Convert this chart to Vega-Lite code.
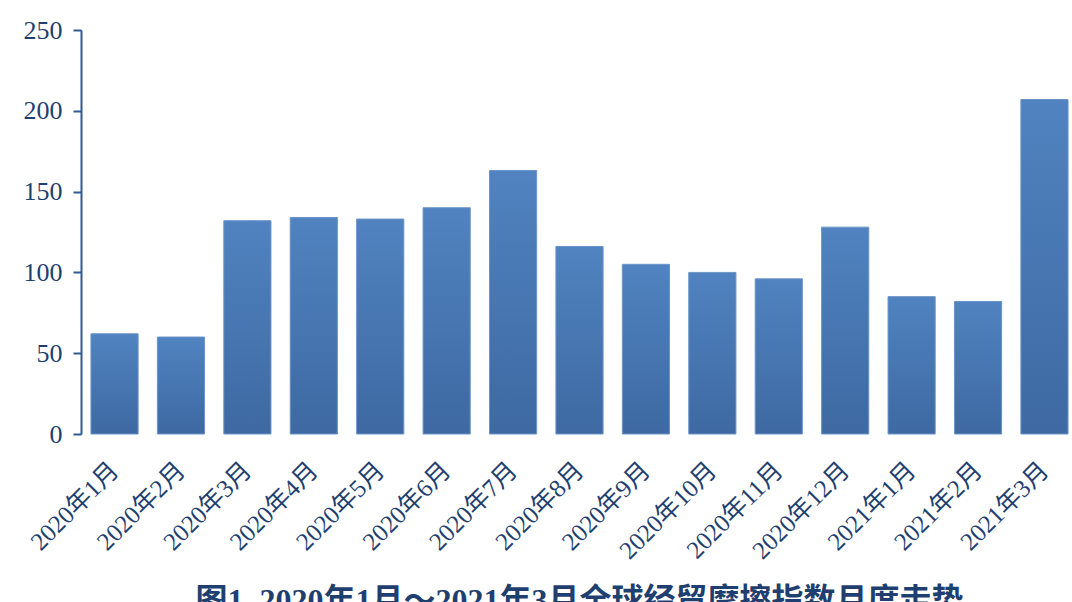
{
  "$schema": "https://vega.github.io/schema/vega-lite/v6.json",
  "width": 997,
  "height": 404,
  "autosize": "none",
  "padding": {"left": 81, "top": 30, "right": 0, "bottom": 168},
  "background": "white",
  "title": {
    "text": "图1\u00a0\u00a02020年1月～2021年3月全球经贸摩擦指数月度走势",
    "orient": "bottom",
    "anchor": "middle",
    "offset": 22,
    "font": "Liberation Serif, Noto Sans CJK SC",
    "fontSize": 32,
    "fontWeight": "bold",
    "color": "#1f3f70"
  },
  "data": {
    "values": [
      {"month": "2020年1月", "index": 62},
      {"month": "2020年2月", "index": 60},
      {"month": "2020年3月", "index": 132},
      {"month": "2020年4月", "index": 134},
      {"month": "2020年5月", "index": 133},
      {"month": "2020年6月", "index": 140},
      {"month": "2020年7月", "index": 163},
      {"month": "2020年8月", "index": 116},
      {"month": "2020年9月", "index": 105},
      {"month": "2020年10月", "index": 100},
      {"month": "2020年11月", "index": 96},
      {"month": "2020年12月", "index": 128},
      {"month": "2021年1月", "index": 85},
      {"month": "2021年2月", "index": 82},
      {"month": "2021年3月", "index": 207}
    ]
  },
  "mark": {
    "type": "bar",
    "stroke": "#6a94c8",
    "strokeWidth": 1,
    "color": {
      "gradient": "linear",
      "x1": 0, "y1": 0, "x2": 0, "y2": 1,
      "stops": [
        {"offset": 0, "color": "#5083c0"},
        {"offset": 1, "color": "#3e69a2"}
      ]
    }
  },
  "encoding": {
    "x": {
      "field": "month",
      "type": "nominal",
      "sort": null,
      "scale": {"paddingInner": 0.29, "paddingOuter": 0.15},
      "axis": {
        "title": null,
        "domain": false,
        "ticks": false,
        "labelAngle": -45,
        "labelAlign": "right",
        "labelBaseline": "middle",
        "labelPadding": 32,
        "labelFont": "Liberation Serif, Noto Sans CJK SC",
        "labelFontSize": 25,
        "labelColor": "#1f3f70"
      }
    },
    "y": {
      "field": "index",
      "type": "quantitative",
      "scale": {"domain": [0, 250], "nice": false},
      "axis": {
        "title": null,
        "values": [0, 50, 100, 150, 200, 250],
        "grid": false,
        "domainColor": "#2f5a92",
        "domainWidth": 2,
        "tickColor": "#2f5a92",
        "tickWidth": 2,
        "tickSize": 8,
        "labelPadding": 11,
        "labelFont": "Liberation Serif",
        "labelFontSize": 26,
        "labelColor": "#1f3f70"
      }
    }
  },
  "config": {"view": {"stroke": null}}
}
